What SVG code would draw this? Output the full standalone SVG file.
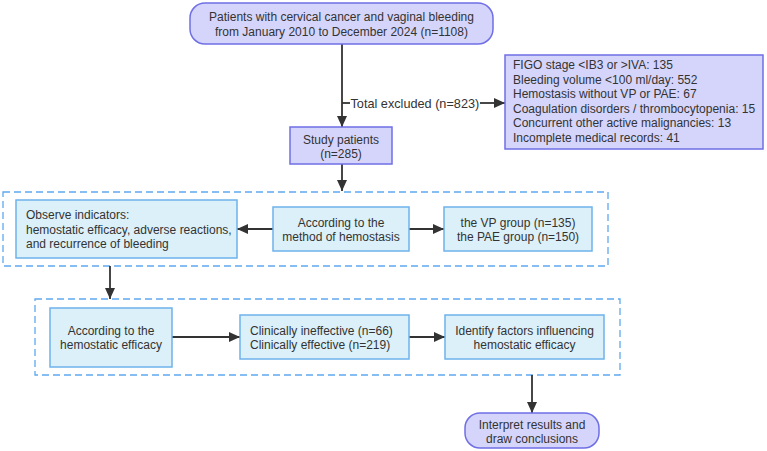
<svg xmlns="http://www.w3.org/2000/svg" width="767" height="451" viewBox="0 0 767 451">
<defs>
<marker id="ah" viewBox="0 0 11 10" refX="11" refY="5" markerWidth="11" markerHeight="10" markerUnits="userSpaceOnUse" orient="auto"><path d="M0,0 L11,5 L0,10 z" fill="#333"/></marker>
<style>
text{font-family:"Liberation Sans",Arial,sans-serif;font-size:12px;fill:#333;}
.c{text-anchor:middle;}
.p{fill:#d5d5fb;stroke:#6f6fe6;stroke-width:1.5;}
.b{fill:#dcf0f9;stroke:#6db3ec;stroke-width:1.5;}
.d{fill:none;stroke:#5fa8ee;stroke-width:1.3;stroke-dasharray:7,4;}
.e{fill:none;stroke:#333;stroke-width:1.8;}
</style>
</defs>
<rect x="0" y="0" width="767" height="451" fill="#fff"/>
<g id="groups">
<rect class="d" x="3" y="192" width="605" height="74"/>
<rect class="d" x="35" y="299" width="585" height="76"/>
</g>
<g id="connectors">
<path class="e" d="M342,44 V127" marker-end="url(#ah)"/>
<path class="e" d="M342,103 H350"/>
<path class="e" d="M480,103 H505" marker-end="url(#ah)"/>
<path class="e" d="M342,164 V191" marker-end="url(#ah)"/>
<path class="e" d="M273,229 H237" marker-end="url(#ah)"/>
<path class="e" d="M409,229 H444" marker-end="url(#ah)"/>
<path class="e" d="M110,266 V299" marker-end="url(#ah)"/>
<path class="e" d="M172,337 H240" marker-end="url(#ah)"/>
<path class="e" d="M409,337 H445" marker-end="url(#ah)"/>
<path class="e" d="M532,375 V413" marker-end="url(#ah)"/>
<text x="350.5" y="107.5" style="font-size:12.7px">Total excluded (n=823)</text>
</g>
<g id="start">
<rect class="p" x="190" y="3" width="303" height="41" rx="15"/>
<text class="c" x="341.5" y="21">Patients with cervical cancer and vaginal bleeding</text>
<text class="c" x="341.5" y="36">from January 2010 to December 2024 (n=1108)</text>
</g>
<g id="excluded">
<rect class="p" x="505" y="55" width="258" height="94"/>
<text x="513" y="69">FIGO stage &lt;IB3 or &gt;IVA: 135</text>
<text x="513" y="83.5">Bleeding volume &lt;100 ml/day: 552</text>
<text x="513" y="98">Hemostasis without VP or PAE: 67</text>
<text x="513" y="112.5">Coagulation disorders / thrombocytopenia: 15</text>
<text x="513" y="127">Concurrent other active malignancies: 13</text>
<text x="513" y="141.5">Incomplete medical records: 41</text>
</g>
<g id="study">
<rect class="p" x="290" y="127" width="102" height="37"/>
<text class="c" x="341" y="144">Study patients</text>
<text class="c" x="341" y="158">(n=285)</text>
</g>
<g id="observe">
<rect class="b" x="16" y="200" width="221" height="58"/>
<text x="26" y="219">Observe indicators:</text>
<text x="26" y="234">hemostatic efficacy, adverse reactions,</text>
<text x="26" y="248">and recurrence of bleeding</text>
</g>
<g id="method">
<rect class="b" x="273" y="207" width="136" height="44"/>
<text class="c" x="341" y="227">According to the</text>
<text class="c" x="341" y="241">method of hemostasis</text>
</g>
<g id="groupsplit">
<rect class="b" x="444" y="207" width="148" height="44"/>
<text class="c" x="518" y="227">the VP group (n=135)</text>
<text class="c" x="518" y="241">the PAE group (n=150)</text>
</g>
<g id="efficacy">
<rect class="b" x="50" y="308" width="122" height="59"/>
<text class="c" x="111" y="335">According to the</text>
<text class="c" x="111" y="349">hemostatic efficacy</text>
</g>
<g id="clinical">
<rect class="b" x="240" y="315" width="169" height="44"/>
<text x="250" y="335">Clinically ineffective (n=66)</text>
<text x="250" y="349">Clinically effective (n=219)</text>
</g>
<g id="factors">
<rect class="b" x="445" y="315" width="159" height="44"/>
<text class="c" x="524.5" y="335">Identify factors influencing</text>
<text class="c" x="524.5" y="349">hemostatic efficacy</text>
</g>
<g id="conclude">
<rect class="p" x="465" y="413" width="134" height="35" rx="15"/>
<text class="c" x="532" y="429">Interpret results and</text>
<text class="c" x="532" y="443">draw conclusions</text>
</g>
</svg>
